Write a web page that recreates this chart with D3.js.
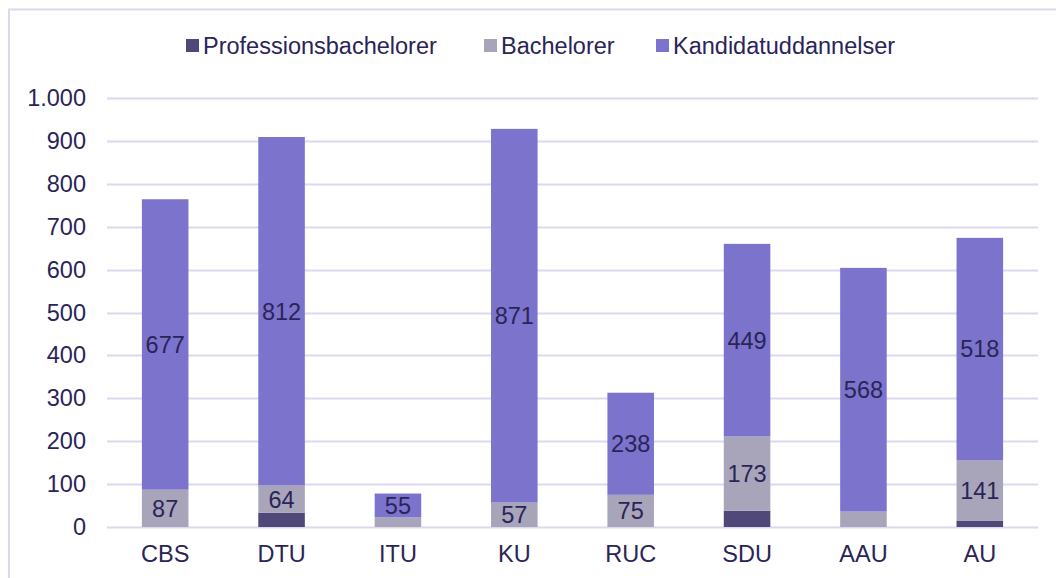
<!DOCTYPE html>
<html>
<head>
<meta charset="utf-8">
<script src="https://cdn.jsdelivr.net/npm/d3@7"></script>
<style>
  body { margin: 0; background: #fff; }
  svg { display: block; font-family: "Liberation Sans", Arial, sans-serif; }
</style>
</head>
<body>
<div id="chart"></div>
<script>
// data
const categories = ['CBS', 'DTU', 'ITU', 'KU', 'RUC', 'SDU', 'AAU', 'AU']
const seriesNames = ['Professionsbachelorer', 'Bachelorer', 'Kandidatuddannelser']
const professionsbachelorer = [0, 33, 0, 0, 0, 38, 0, 15]
const bachelorer = [87, 64, 23, 57, 75, 173, 36, 141]
const kandidat = [677, 812, 55, 871, 238, 449, 568, 518]
// which segments carry a value label in the original
const showLabel = [
  [false, false, false, false, false, false, false, false],
  [true, true, false, true, true, true, false, true],
  [true, true, true, true, true, true, true, true]
]
const yTicks = [0, 100, 200, 300, 400, 500, 600, 700, 800, 900, 1000]

const colors = ['#4f4878', '#a8a5bb', '#7b73cc']
const textColor = '#2a2457'
const gridColor = '#dcd8f0'
const fontSize = 23.5

const width = 1056
const height = 578
const margin = { top: 98, right: 18, bottom: 51, left: 107 }
const innerWidth = width - margin.left - margin.right
const innerHeight = height - margin.top - margin.bottom

const svg = d3.select('#chart')
  .append('svg')
  .attr('width', width)
  .attr('height', height)

// outer frame (top + left edges visible)
svg.append('path')
  .attr('d', `M9,${height + 5} V9.5 H${width + 5}`)
  .attr('fill', 'none')
  .attr('stroke', gridColor)
  .attr('stroke-width', 2)

const g = svg.append('g')
  .attr('transform', `translate(${margin.left},${margin.top})`)

const x = d3.scaleBand()
  .domain(categories)
  .range([0, innerWidth])
  .paddingInner(0.6)
  .paddingOuter(0.3)

const y = d3.scaleLinear()
  .domain([0, 1000])
  .range([innerHeight, 0])

const fmt = d3.formatLocale({ decimal: ',', thousands: '.', grouping: [3], currency: ['', ' kr.'] }).format(',')

// gridlines
g.append('g')
  .selectAll('line')
  .data(yTicks)
  .join('line')
  .attr('x1', 0)
  .attr('x2', innerWidth)
  .attr('y1', d => Math.round(y(d)) + 0.5)
  .attr('y2', d => Math.round(y(d)) + 0.5)
  .attr('stroke', gridColor)
  .attr('stroke-width', 2)

// y axis labels
const yAxis = g.append('g')
  .call(d3.axisLeft(y).tickValues(yTicks).tickFormat(fmt).tickSize(0).tickPadding(21))
yAxis.select('.domain').remove()
yAxis.attr('font-family', null).attr('font-size', null)
yAxis.selectAll('text')
  .attr('font-size', fontSize)
  .attr('fill', textColor)

// x axis labels
const xAxis = g.append('g')
  .attr('transform', `translate(0,${innerHeight})`)
  .call(d3.axisBottom(x).tickSize(0).tickPadding(18))
xAxis.select('.domain').remove()
xAxis.attr('font-family', null).attr('font-size', null)
xAxis.selectAll('text')
  .attr('font-size', fontSize)
  .attr('fill', textColor)

// stack
const rows = categories.map((c, i) => ({
  cat: c,
  [seriesNames[0]]: professionsbachelorer[i],
  [seriesNames[1]]: bachelorer[i],
  [seriesNames[2]]: kandidat[i]
}))
const stacked = d3.stack().keys(seriesNames)(rows)

const layers = g.selectAll('.layer')
  .data(stacked)
  .join('g')
  .attr('class', 'layer')
  .attr('fill', (_, i) => colors[i])

layers.selectAll('rect')
  .data(d => d)
  .join('rect')
  .attr('x', d => x(d.data.cat))
  .attr('y', d => y(d[1]))
  .attr('width', x.bandwidth())
  .attr('height', d => y(d[0]) - y(d[1]))

// value labels
stacked.forEach((layer, si) => {
  g.append('g')
    .selectAll('text')
    .data(layer.filter((d, i) => showLabel[si][i]))
    .join('text')
    .attr('x', d => x(d.data.cat) + x.bandwidth() / 2)
    .attr('y', d => (y(d[0]) + y(d[1])) / 2)
    .attr('dy', '0.36em')
    .attr('text-anchor', 'middle')
    .attr('font-size', fontSize)
    .attr('fill', textColor)
    .text(d => d[1] - d[0])
})

// legend
const legendItems = [
  { name: seriesNames[0], x: 186 },
  { name: seriesNames[1], x: 484 },
  { name: seriesNames[2], x: 656 }
]
const legend = svg.append('g')
  .selectAll('g')
  .data(legendItems)
  .join('g')
  .attr('transform', d => `translate(${d.x},46)`)
legend.append('rect')
  .attr('x', 0)
  .attr('y', -7)
  .attr('width', 13)
  .attr('height', 13)
  .attr('fill', (_, i) => colors[i])
legend.append('text')
  .attr('x', 17)
  .attr('dy', '0.36em')
  .attr('font-size', fontSize)
  .attr('fill', textColor)
  .text(d => d.name)
</script>
</body>
</html>
